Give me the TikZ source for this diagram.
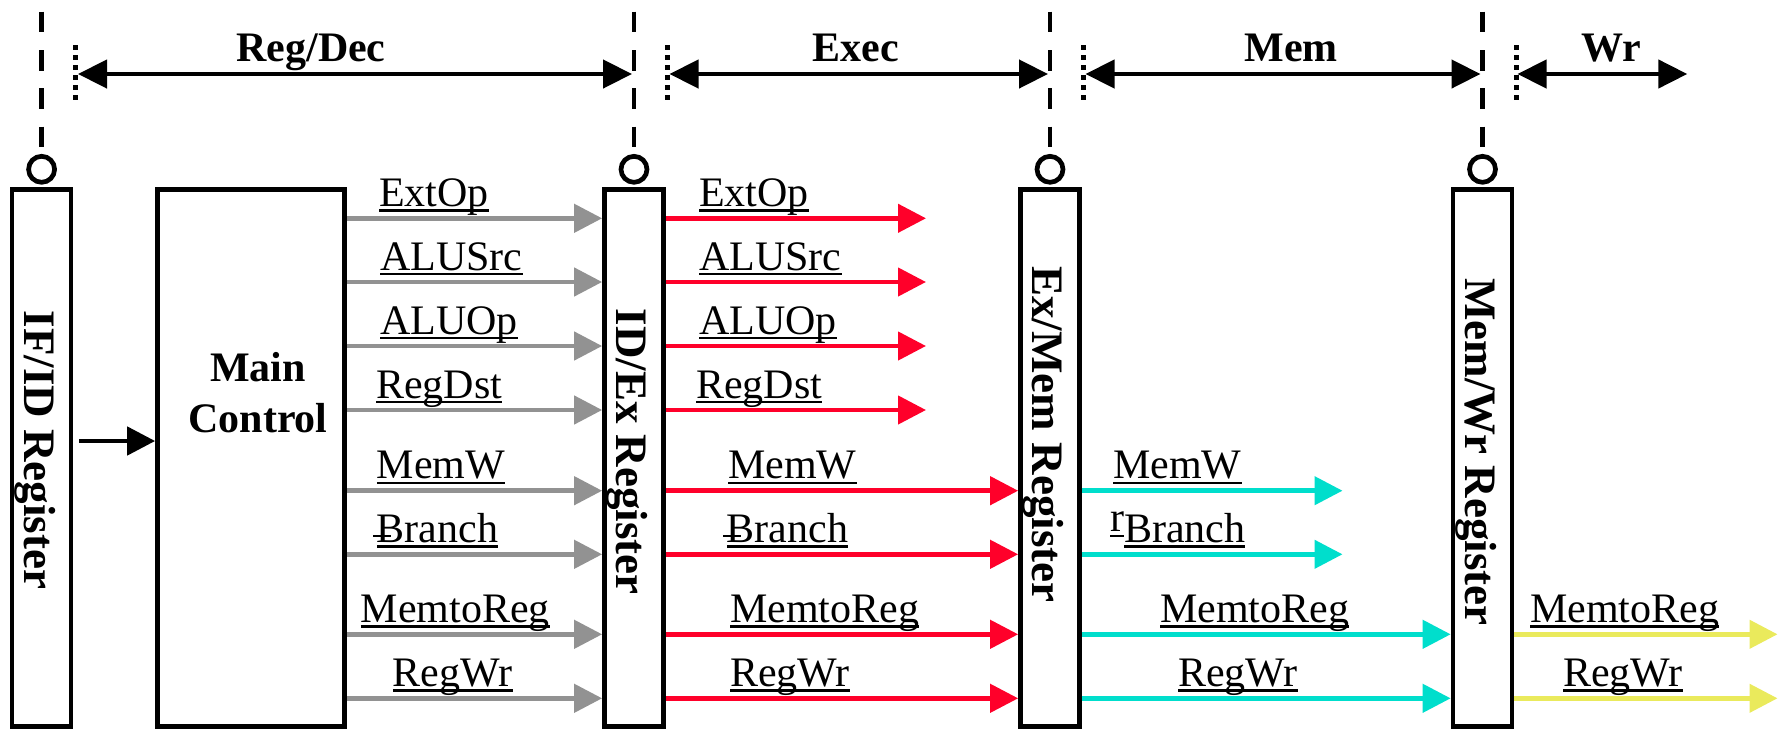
\documentclass[tikz,border=0pt]{standalone}
\usepackage{fontspec}
\setmainfont{Liberation Serif}
\usetikzlibrary{arrows.meta}

\definecolor{sigGray}{RGB}{146,146,146}
\definecolor{sigRed}{RGB}{255,0,42}
\definecolor{sigCyan}{RGB}{0,222,204}
\definecolor{sigYellow}{RGB}{234,234,92}

% underline at a fixed depth below the baseline
\newcommand\sigul[1]{\setbox0=\hbox{#1}\rlap{\rule[-5.2pt]{\wd0}{2.3pt}}\box0}
% stray raised underline that sits over the B of "Branch"
\newcommand\brstroke{\rlap{\raisebox{10.5pt}{\rule[-5.2pt]{18pt}{2.3pt}}}}

\begin{document}
\begin{tikzpicture}[x=1pt,y=-1pt,
  regbox/.style={draw,line width=4.7pt,minimum width=59pt,minimum height=537pt,inner sep=0pt},
  ctlbox/.style={draw,line width=4.7pt,minimum width=187pt,minimum height=537pt,inner sep=0pt},
  clk/.style={draw,circle,line width=4.7pt,minimum size=26pt,inner sep=0pt},
  dashln/.style={line width=4.7pt,dash pattern=on 20.6pt off 17.7pt},
  dotln/.style={line width=5pt,dash pattern=on 5pt off 5pt},
  span/.style={line width=4.5pt,{Triangle[length=29pt,width=28pt]}-{Triangle[length=29pt,width=28pt]}},
  sig/.style={line width=4.5pt,-{Triangle[length=28pt,width=28pt]}},
  vlabel/.style={rotate=-90,anchor=base,inner sep=0pt,font=\fontsize{45}{50}\selectfont\bfseries},
  title/.style={anchor=base,inner sep=0pt,font=\fontsize{42}{50}\selectfont\bfseries},
  slab/.style={anchor=base west,inner sep=0pt,font=\fontsize{42}{50}\selectfont}
]
\useasboundingbox (0,0) rectangle (1781,729);

% pipeline registers and the control unit
\node[regbox] (ifid) at (41.6,458) {};
\node[ctlbox] (main) at (251,458) {};
\node[regbox] (idex) at (634,458) {};
\node[regbox] (exmem) at (1050,458) {};
\node[regbox] (memwr) at (1482.5,458) {};

\node[vlabel] (ifidlbl) at (24.1,450) {IF/ID Register};
\node[vlabel] (idexlbl) at (616.5,451.7) {ID/Ex Register};
\node[vlabel] (exmemlbl) at (1032.5,434.5) {Ex/Mem Register};
\node[vlabel] (memwrlbl) at (1465,452) {Mem/Wr Register};
% base anchor of a two-line node lies on the last line
\node[title,align=center,font=\fontsize{42}{51}\selectfont\bfseries] (mainlbl) at (258,432.3) {Main\\Control};

% clock inputs and dashed stage boundaries
\foreach \r/\n in {ifid/1,idex/2,exmem/3,memwr/4}{
  \node[clk] (clk\n) at (\r.north |- 0,169.3) {};
  \coordinate (top\n) at (\r.north |- 0,11.7);
  \draw[dashln] (top\n) -- (clk\n.north);
}

% dotted marks at the start of each stage
\foreach \r/\n in {ifid/1,idex/2,exmem/3,memwr/4}{
  \coordinate (dA\n) at ([xshift=2pt]\r.east |- 0,45);
  \coordinate (dB\n) at ([xshift=2pt]\r.east |- 0,103);
  \draw[dotln] (dA\n) -- (dB\n);
}

% stage extents
\coordinate (s1a) at (78,74);    \coordinate (s1b) at (632,74);
\coordinate (s2a) at (669.5,74); \coordinate (s2b) at (1048,74);
\coordinate (s3a) at (1085.5,74);\coordinate (s3b) at (1480.5,74);
\coordinate (s4a) at (1517.5,74);\coordinate (s4b) at (1687.3,74);
\draw[span] (s1a) -- (s1b);
\draw[span] (s2a) -- (s2b);
\draw[span] (s3a) -- (s3b);
\draw[span] (s4a) -- (s4b);
\node[title] (t1) at (311,61.7) {Reg/Dec};
\node[title] (t2) at (856,61.7) {Exec};
\node[title] (t3) at (1291,61.7) {Mem};
\node[title] (t4) at (1611,61.7) {Wr};

% instruction into the control unit
\draw[line width=4.7pt,-{Triangle[length=28pt,width=28pt]}] ([xshift=6pt]ifid.east |- 0,441) -- (main.west |- 0,441);

% control signals: Main Control -> ID/Ex
\foreach \y in {218.3,282,346,410,490.7,554.3,634.3,698.3}{
  \draw[sig,sigGray] (main.east |- 0,\y) -- (idex.west |- 0,\y);
}
\node[slab] (g1) at (379,206.3) {\sigul{ExtOp}};
\node[slab] (g2) at (380,270) {\sigul{ALUSrc}};
\node[slab] (g3) at (380,334) {\sigul{ALUOp}};
\node[slab] (g4) at (376,398) {\sigul{RegDst}};
\node[slab] (g5) at (376.7,478.7) {\sigul{MemW}};
\node[slab] (g6) at (373,542.3) {\brstroke\hspace{3.7pt}\sigul{Branch}};
\node[slab] (g7) at (360.7,622.3) {\sigul{MemtoReg}};
\node[slab] (g8) at (392.7,686.3) {\sigul{RegWr}};

% ID/Ex outputs
\coordinate (r1) at (926,218.3);
\coordinate (r2) at (926,282);
\coordinate (r3) at (926,346);
\coordinate (r4) at (926,410);
\foreach \n in {1,...,4}{
  \draw[sig,sigRed] (idex.east |- r\n) -- (r\n);
}
\foreach \y in {490.7,554.3,634.3,698.3}{
  \draw[sig,sigRed] (idex.east |- 0,\y) -- (exmem.west |- 0,\y);
}
\node[slab] (e1) at (699,206.3) {\sigul{ExtOp}};
\node[slab] (e2) at (699,270) {\sigul{ALUSrc}};
\node[slab] (e3) at (699,334) {\sigul{ALUOp}};
\node[slab] (e4) at (696,398) {\sigul{RegDst}};
\node[slab] (e5) at (728,478.7) {\sigul{MemW}};
\node[slab] (e6) at (723,542.3) {\brstroke\hspace{3.7pt}\sigul{Branch}};
\node[slab] (e7) at (730,622.3) {\sigul{MemtoReg}};
\node[slab] (e8) at (730,686.3) {\sigul{RegWr}};

% Ex/Mem outputs
\coordinate (c1) at (1342.5,490.7);
\coordinate (c2) at (1342.5,554.3);
\draw[sig,sigCyan] (exmem.east |- c1) -- (c1);
\draw[sig,sigCyan] (exmem.east |- c2) -- (c2);
\foreach \y in {634.3,698.3}{
  \draw[sig,sigCyan] (exmem.east |- 0,\y) -- (memwr.west |- 0,\y);
}
\node[slab] (m1) at (1113,478.7) {\sigul{MemW}};
\node[slab] (m2) at (1110,542.3) {\raisebox{10.5pt}{\sigul{r}}\sigul{Branch}};
\node[slab] (m3) at (1160,622.3) {\sigul{MemtoReg}};
\node[slab] (m4) at (1178,686.3) {\sigul{RegWr}};

% Mem/Wr outputs
\coordinate (y1) at (1777.5,634.3);
\coordinate (y2) at (1777.5,698.3);
\draw[sig,sigYellow] (memwr.east |- y1) -- (y1);
\draw[sig,sigYellow] (memwr.east |- y2) -- (y2);
\node[slab] (w1) at (1530,622.3) {\sigul{MemtoReg}};
\node[slab] (w2) at (1563,686.3) {\sigul{RegWr}};
\end{tikzpicture}
\end{document}
